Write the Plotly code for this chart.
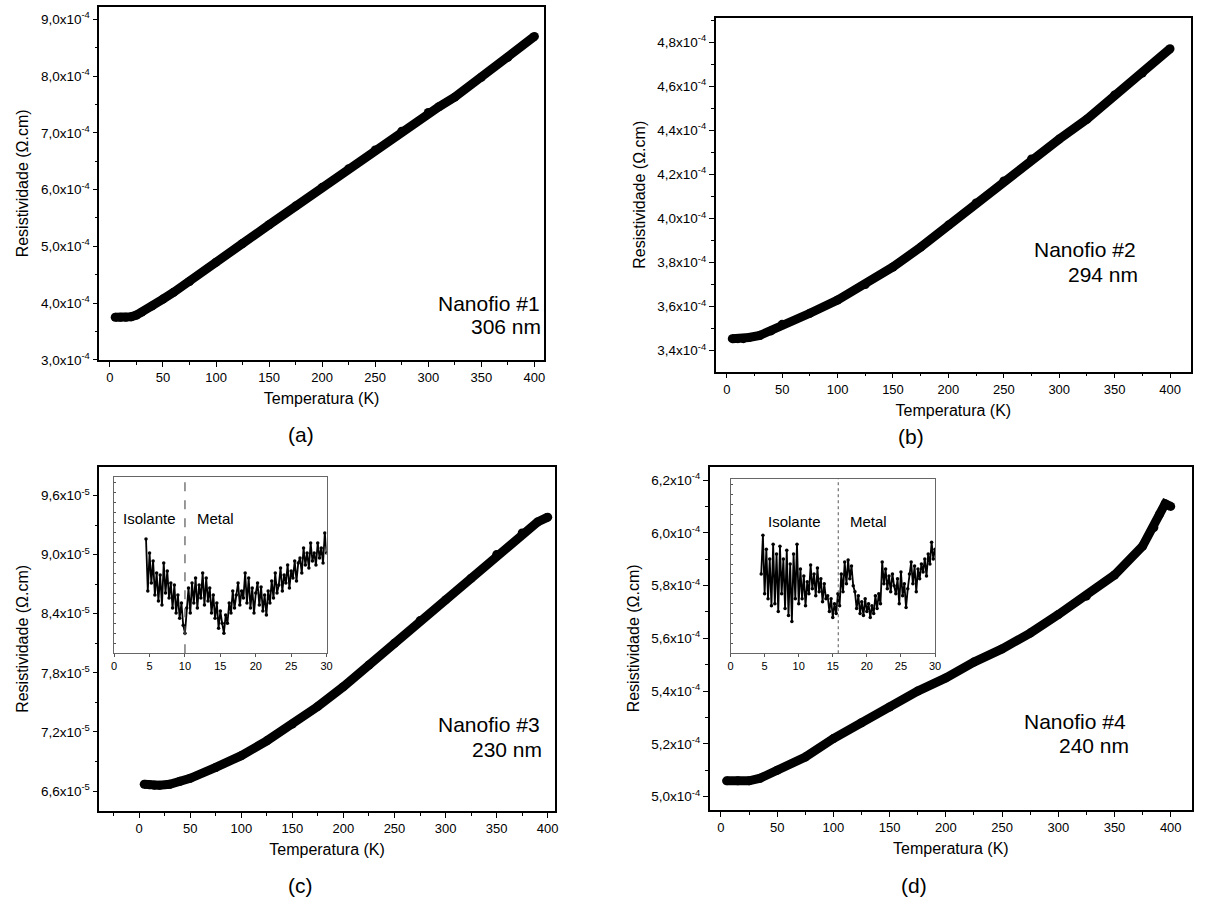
import plotly.graph_objects as go

W, H = 1210, 912
FONT = "Liberation Sans, Arial, sans-serif"

# ---------------- data ----------------
Ta = [5, 10, 15, 20, 25, 30, 40, 50, 60, 75, 100, 125, 150, 175, 200, 225, 250, 275, 300, 310, 325, 350, 375, 400]
Ra = [3.75, 3.75, 3.75, 3.76, 3.79, 3.84, 3.95, 4.07, 4.19, 4.38, 4.72, 5.05, 5.38, 5.71, 6.04, 6.37, 6.70, 7.03, 7.36, 7.46, 7.63, 7.98, 8.33, 8.70]  # 1e-4

Tb = [5, 10, 15, 20, 30, 40, 50, 75, 100, 125, 150, 175, 200, 225, 250, 275, 300, 325, 350, 375, 400]
Rb = [3.455, 3.455, 3.455, 3.46, 3.47, 3.49, 3.52, 3.57, 3.63, 3.70, 3.78, 3.87, 3.97, 4.07, 4.17, 4.27, 4.36, 4.45, 4.56, 4.66, 4.77]  # 1e-4

Tc = [5, 10, 15, 20, 30, 40, 50, 75, 100, 125, 150, 175, 200, 225, 250, 275, 300, 325, 350, 375, 390, 400]
Rc = [6.67, 6.665, 6.66, 6.66, 6.67, 6.70, 6.73, 6.84, 6.96, 7.11, 7.28, 7.46, 7.66, 7.88, 8.10, 8.33, 8.54, 8.76, 9.00, 9.22, 9.33, 9.38]  # 1e-5

Td = [5, 15, 25, 35, 50, 75, 100, 125, 150, 175, 200, 225, 250, 275, 300, 325, 350, 375, 385, 390, 395, 400]
Rd = [5.06, 5.06, 5.06, 5.07, 5.10, 5.15, 5.22, 5.28, 5.34, 5.40, 5.45, 5.51, 5.56, 5.62, 5.69, 5.76, 5.84, 5.95, 6.02, 6.07, 6.11, 6.10]  # 1e-4

# inset temperatures (K)
T_ins = [4.5, 4.75, 5.0, 5.25, 5.5, 5.75, 6.0,
         6.25, 6.5, 6.75, 7.0, 7.25, 7.5, 7.75, 8.0,
         8.25, 8.5, 8.75, 9.0, 9.25, 9.5, 9.75, 10.0,
         10.25, 10.5, 10.75, 11.0, 11.25, 11.5, 11.75, 12.0,
         12.25, 12.5, 12.75, 13.0, 13.25, 13.5, 13.75, 14.0,
         14.25, 14.5, 14.75, 15.0, 15.25, 15.5, 15.75, 16.0,
         16.25, 16.5, 16.75, 17.0, 17.25, 17.5, 17.75, 18.0,
         18.25, 18.5, 18.75, 19.0, 19.25, 19.5, 19.75, 20.0,
         20.25, 20.5, 20.75, 21.0, 21.25, 21.5, 21.75, 22.0,
         22.25, 22.5, 22.75, 23.0, 23.25, 23.5, 23.75, 24.0,
         24.25, 24.5, 24.75, 25.0, 25.25, 25.5, 25.75, 26.0,
         26.25, 26.5, 26.75, 27.0, 27.25, 27.5, 27.75, 28.0,
         28.25, 28.5, 28.75, 29.0, 29.25, 29.5, 29.75, 30.0]

# inset resistivity (arbitrary units, read as heights)
R_ins_c = [114, 62, 100, 70, 92, 58, 80,
           52, 78, 48, 90, 60, 82, 55, 70,
           45, 68, 40, 58, 35, 50, 28, 20,
           45, 65, 40, 70, 50, 75, 45, 68,
           55, 80, 48, 75, 52, 65, 40, 58,
           35, 50, 25, 42, 30, 20, 38, 30,
           50, 40, 62, 45, 58, 70, 48, 62,
           55, 80, 50, 75, 45, 65, 40, 60,
           70, 48, 66, 42, 58, 38, 62, 50,
           72, 55, 80, 60, 68, 85, 62, 78,
           70, 88, 65, 82, 75, 92, 72, 90,
           95, 80, 105, 88, 100, 85, 110, 92,
           100, 88, 110, 95, 105, 90, 120, 100]

R_ins_d = [80, 119, 60, 105, 55, 95, 48,
           110, 50, 100, 42, 108, 60, 95, 45,
           104, 38, 90, 32, 100, 55, 110, 50,
           85, 55, 78, 48, 72, 60, 89, 65,
           80, 58, 86, 62, 75, 52, 70, 55,
           58, 42, 55, 36, 50, 40, 60, 48,
           80, 62, 92, 70, 94, 75, 88, 68,
           62, 45, 58, 40, 52, 38, 55, 42,
           50, 36, 48, 40, 58, 45, 60, 50,
           92, 70, 85, 65, 78, 62, 80, 68,
           60, 75, 50, 82, 58, 70, 46, 65,
           80, 92, 70, 88, 62, 85, 75, 90,
           82, 95, 78, 100, 90, 112, 95, 105]

T_trans_c = 10.0
T_trans_d = 15.8

xticks_main = [0, 50, 100, 150, 200, 250, 300, 350, 400]
yticks_a = [3.0, 4.0, 5.0, 6.0, 7.0, 8.0, 9.0]
yticks_b = [3.4, 3.6, 3.8, 4.0, 4.2, 4.4, 4.6, 4.8]
yticks_c = [6.6, 7.2, 7.8, 8.4, 9.0, 9.6]
yticks_d = [5.0, 5.2, 5.4, 5.6, 5.8, 6.0, 6.2]
xticks_ins = [0, 5, 10, 15, 20, 25, 30]


def lbl(v, e):
    return ("%.1f" % v).replace(".", ",") + "x10<sup>%d</sup>" % e


def dx(l, r):
    return [l / W, r / W]


def dy(t, b):
    return [1 - b / H, 1 - t / H]


fig = go.Figure()

panels = [
    (Ta, Ra, 1e-4, "x", "y", 9),
    (Tb, Rb, 1e-4, "x2", "y2", 9),
    (Tc, Rc, 1e-5, "x3", "y3", 9),
    (Td, Rd, 1e-4, "x4", "y4", 9),
]
for T, R, sc, xa, ya, wdt in panels:
    fig.add_trace(go.Scatter(x=T, y=[r * sc for r in R], xaxis=xa, yaxis=ya,
                             mode="lines+markers",
                             line=dict(color="black", width=wdt),
                             marker=dict(color="black", size=wdt),
                             showlegend=False, hoverinfo="skip"))

for R, xa, ya in [(R_ins_c, "x5", "y5"), (R_ins_d, "x6", "y6")]:
    fig.add_trace(go.Scatter(x=T_ins, y=R, xaxis=xa, yaxis=ya,
                             mode="lines+markers",
                             line=dict(color="black", width=1.8),
                             marker=dict(color="black", size=3.5),
                             showlegend=False, hoverinfo="skip"))

xtickfont = dict(family=FONT, size=13, color="black")
ytickfont = dict(family=FONT, size=13.5, color="black")
titlefont = dict(family=FONT, size=16, color="black")


def main_x(dom, rng, anchor):
    return dict(domain=dom, range=rng, anchor=anchor, tickmode="array",
                tickvals=xticks_main, ticktext=[str(t) for t in xticks_main],
                ticks="outside", ticklen=5, tickwidth=1.2, tickcolor="black",
                minor=dict(dtick=25, tick0=0, ticks="outside", ticklen=3, tickcolor="black"),
                showline=True, linecolor="black", linewidth=1.5, mirror=True,
                showgrid=False, zeroline=False, tickfont=xtickfont,
                title=dict(text="Temperatura (K)", font=titlefont, standoff=9))


def main_y(dom, rng, anchor, vals, sc, e, step):
    return dict(domain=dom, range=rng, anchor=anchor, tickmode="array",
                tickvals=[v * sc for v in vals], ticktext=[lbl(v, e) for v in vals],
                ticks="outside", ticklen=5, tickwidth=1.2, tickcolor="black",
                minor=dict(dtick=step * sc / 2, tick0=vals[0] * sc, ticks="outside", ticklen=3, tickcolor="black"),
                showline=True, linecolor="black", linewidth=1.5, mirror=True,
                showgrid=False, zeroline=False, tickfont=ytickfont,
                title=dict(text="Resistividade (Ω.cm)", font=titlefont, standoff=8))


def ins_x(dom, anchor):
    return dict(domain=dom, range=[0, 30], anchor=anchor, tickmode="array",
                tickvals=xticks_ins, ticktext=[str(t) for t in xticks_ins],
                ticks="outside", ticklen=3, tickcolor="#555",
                showline=True, linecolor="#666", linewidth=1, mirror=True,
                showgrid=False, zeroline=False,
                tickfont=dict(family=FONT, size=11, color="black"))


def ins_y(dom, anchor):
    return dict(domain=dom, range=[0, 176], anchor=anchor, dtick=10, tick0=0,
                ticks="inside", ticklen=2, tickcolor="#555", showticklabels=False,
                showline=True, linecolor="#666", linewidth=1, mirror=True,
                showgrid=False, zeroline=False)


fig.update_layout(
    width=W, height=H, margin=dict(l=0, r=0, t=0, b=0),
    paper_bgcolor="white", plot_bgcolor="white",
    font=dict(family=FONT, color="black"),
    xaxis=main_x(dx(97, 545), [-10, 409], "y"),
    yaxis=main_y(dy(7, 363), [3.0e-4, 9.22e-4], "x", yticks_a, 1e-4, -4, 1.0),
    xaxis2=main_x(dx(718, 1197), [-10, 419], "y2"),
    yaxis2=main_y(dy(18, 375), [3.305e-4, 4.91e-4], "x2", yticks_b, 1e-4, -4, 0.2),
    xaxis3=main_x(dx(97, 556), [-39, 407], "y3"),
    yaxis3=main_y(dy(471, 818), [6.40e-5, 9.89e-5], "x3", yticks_c, 1e-5, -5, 0.6),
    xaxis4=main_x(dx(712, 1198), [-10, 419], "y4"),
    yaxis4=main_y(dy(471, 817), [4.95e-4, 6.25e-4], "x4", yticks_d, 1e-4, -4, 0.2),
    xaxis5=ins_x(dx(112, 326), "y5"),
    yaxis5=ins_y(dy(481, 659), "x5"),
    xaxis6=ins_x(dx(733, 939), "y6"),
    yaxis6=ins_y(dy(483, 659), "x6"),
)

shapes = [
    dict(type="line", xref="x5", yref="y5 domain", x0=T_trans_c, x1=T_trans_c, y0=0, y1=1,
         line=dict(color="#555", width=1.2, dash="dash")),
    dict(type="line", xref="x6", yref="y6 domain", x0=T_trans_d, x1=T_trans_d, y0=0, y1=1,
         line=dict(color="#555", width=1, dash="dot")),
]
fig.update_layout(shapes=shapes)


def ann(text, px, py, size, xanchor="center"):
    return dict(text=text, x=px / W, y=1 - py / H, xref="paper", yref="paper",
                showarrow=False, xanchor=xanchor, yanchor="middle",
                font=dict(family=FONT, size=size, color="black"))


anns = [
    ann("Nanofio #1", 490, 306, 21), ann("306 nm", 507, 329, 21),
    ann("Nanofio #2", 1090, 252, 21), ann("294 nm", 1108, 277, 21),
    ann("Nanofio #3", 490, 731, 21), ann("230 nm", 508, 756, 21),
    ann("Nanofio #4", 1080, 728, 21), ann("240 nm", 1099, 752, 21),
    ann("(a)", 300, 438, 21), ann("(b)", 915, 440, 21),
    ann("(c)", 300, 893, 21), ann("(d)", 918, 893, 21),
    ann("Isolante", 148, 523, 15), ann("Metal", 214, 523, 15),
    ann("Isolante", 797, 526, 15), ann("Metal", 872, 526, 15),
]
fig.update_layout(annotations=anns)

fig.write_html("out.html")
